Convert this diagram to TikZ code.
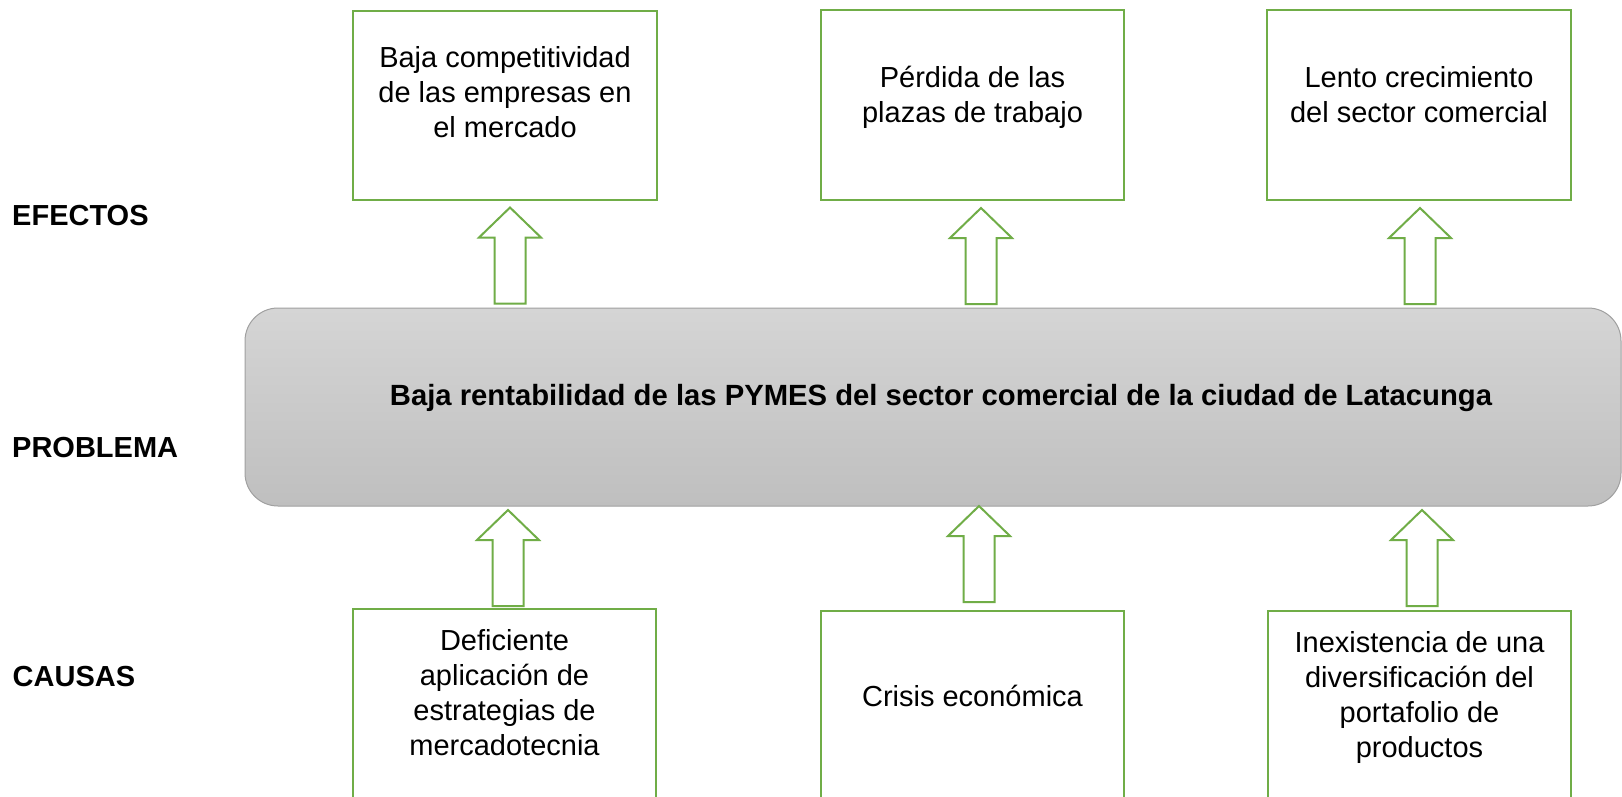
\documentclass[tikz,border=0pt]{standalone}
\usepackage{fontspec}
\setmainfont{Liberation Sans}
\usetikzlibrary{calc}
\definecolor{grn}{RGB}{112,173,71}
\definecolor{gtop}{RGB}{213,213,213}
\definecolor{gbot}{RGB}{191,191,191}
\definecolor{gedge}{RGB}{160,160,160}
\begin{document}
\begin{tikzpicture}[x=1pt,y=1pt,
  gbox/.style={draw=grn, line width=2pt, fill=white, inner sep=0pt, minimum width=304pt, minimum height=190pt},
  btxt/.style={font=\fontsize{29}{35}\selectfont, align=center, inner sep=0pt, execute at begin node=\strut, execute at end node=\strut},
  lbl/.style={font=\fontsize{29}{35}\selectfont\bfseries, anchor=base west, inner sep=0pt},
  barrow/.style={draw=grn, line width=2pt, fill=white, line join=miter},
  pics/uparr/.style={code={\draw[barrow] (-15.5,0) -- (15.5,0) -- (15.5,66) -- (31,66) -- (0,96) -- (-31,66) -- (-15.5,66) -- cycle;}}
]
\useasboundingbox (0,0) rectangle (1622,-797);
\clip (0,0) rectangle (1622,-797);
\fill[white] (0,0) rectangle (1622,-797);

% side labels
\node[lbl] (lef) at (12,-225.7) {EFECTOS};
\node[lbl] (lpr) at (12,-457) {PROBLEMA};
\node[lbl] (lca) at (12.5,-686.7) {CAUSAS};

% problem
\node[draw=gedge, line width=1pt, rounded corners=33pt, top color=gtop, bottom color=gbot,
      minimum width=1376pt, minimum height=198pt, inner sep=0pt] (prob) at (933,-407) {};
\node[font=\fontsize{29.25}{35}\selectfont\bfseries, anchor=base, inner sep=0pt] (probt) at (941,-405)
  {Baja rentabilidad de las PYMES del sector comercial de la ciudad de Latacunga};

% effects
\node[gbox, minimum height=189pt] (e1) at (505,-105.5) {};
\node[btxt] (e1t) at (505,-97.5) {Baja competitividad\\de las empresas en\\el mercado};
\node[gbox, minimum width=303pt] (e2) at (972.5,-105) {};
\node[btxt] (e2t) at (972.5,-100) {Pérdida de las\\plazas de trabajo};
\node[gbox] (e3) at (1419,-105) {};
\node[btxt] (e3t) at (1419,-100) {Lento crecimiento\\del sector comercial};

% causes
\node[gbox, minimum width=303pt, minimum height=191pt] (c1) at (504.5,-704.5) {};
\node[btxt] (c1t) at (504.5,-697.5) {Deficiente\\aplicación de\\estrategias de\\mercadotecnia};
\node[gbox, minimum width=303pt] (c2) at (972.5,-706) {};
\node[btxt] (c2t) at (972.5,-699.2) {Crisis económica};
\node[gbox, minimum width=303pt] (c3) at (1419.5,-706) {};
\node[btxt] (c3t) at (1419.5,-699.5) {Inexistencia de una\\diversificación del\\portafolio de\\productos};

% block arrows
\coordinate (a1) at (510,-303.5);
\coordinate (a2) at (981,-304);
\coordinate (a3) at (1420,-304);
\coordinate (b1) at (508,-606);
\coordinate (b2) at (979,-602);
\coordinate (b3) at (1422,-606);
\pic at (a1) {uparr};
\pic at (a2) {uparr};
\pic at (a3) {uparr};
\pic at (b1) {uparr};
\pic at (b2) {uparr};
\pic at (b3) {uparr};
\end{tikzpicture}
\end{document}
